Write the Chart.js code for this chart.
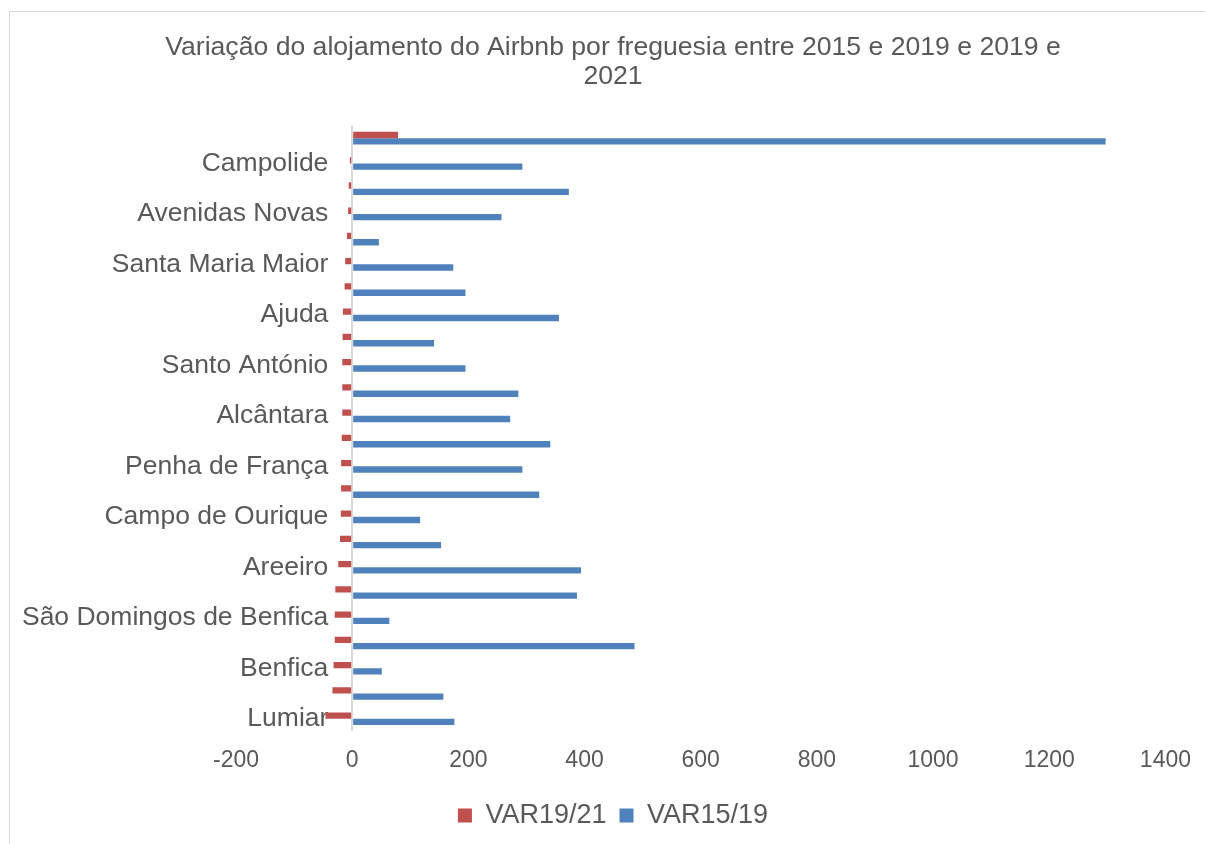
<!DOCTYPE html>
<html>
<head>
<meta charset="utf-8">
<script src="https://cdn.jsdelivr.net/npm/chart.js@4"></script>
<style>
body { margin: 0; background: #fff; overflow: hidden; }
#frame { position: absolute; left: 9px; top: 11px; width: 1400px; height: 1000px; border: 1px solid #d9d9d9; }
#c { position: absolute; left: 0; top: 0; }
</style>
</head>
<body>
<div id="frame"></div>
<canvas id="c" width="1206" height="844"></canvas>
<script>
// freguesias, top to bottom as in the chart
var freguesias = ["Marvila", "Campolide", "Beato", "Avenidas Novas", "Misericórdia", "Santa Maria Maior",
    "São Vicente", "Ajuda", "Arroios", "Santo António", "Estrela", "Alcântara", "Belém", "Penha de França",
    "Parque das Nações", "Campo de Ourique", "Alvalade", "Areeiro", "Olivais", "São Domingos de Benfica",
    "Carnide", "Benfica", "Santa Clara", "Lumiar"];
var var1921 = [79, -4, -6, -7, -9, -12, -13, -16, -16.5, -17, -17, -17, -18, -19, -19, -19.5, -21, -24, -29, -30, -30, -32, -34, -46];
var var1519 = [1297, 293, 373, 257, 46, 174, 195, 356, 141, 195, 286, 272, 341, 293, 322, 117, 153, 394, 387, 64, 486, 51, 157, 176];
var xTicks = [-200, 0, 200, 400, 600, 800, 1000, 1200, 1400];

var grey = "#595959";
var font = "'Liberation Sans', Arial, sans-serif";

new Chart(document.getElementById("c"), {
    type: "bar",
    data: {
        labels: freguesias,
        datasets: [{
            label: "VAR19/21",
            data: var1921,
            backgroundColor: "#C0504D"
        }, {
            label: "VAR15/19",
            data: var1519,
            backgroundColor: "#4F81BD"
        }]
    },
    options: {
        indexAxis: "y",
        responsive: false,
        animation: false,
        categoryPercentage: 0.5,
        barPercentage: 1,
        layout: { padding: { left: 20, right: 0, top: 23, bottom: 5 } },
        scales: {
            x: {
                min: xTicks[0],
                max: xTicks[xTicks.length - 1],
                afterBuildTicks: function (axis) {
                    axis.ticks = xTicks.map(function (v) { return { value: v }; });
                },
                border: { display: false },
                grid: {
                    drawTicks: false,
                    color: function (ctx) { return ctx.tick && ctx.tick.value === 0 ? "#d9d9d9" : "rgba(0,0,0,0)"; },
                    lineWidth: 2
                },
                ticks: {
                    color: grey, font: { family: font, size: 23 }, padding: 15, maxRotation: 0,
                    callback: function (v) { return String(v); }
                }
            },
            // category labels sit just left of the zero line, like Excel does
            y: {
                position: { x: -41 },
                border: { display: false },
                grid: { display: false, drawTicks: false },
                ticks: {
                    autoSkip: false,
                    color: grey,
                    font: { family: font, size: 26.5 },
                    callback: function (val, idx) {
                        return idx % 2 === 1 ? freguesias[idx] : "";
                    }
                }
            },
            // empty axis only to keep room on the left of the plot
            yPad: {
                type: "category",
                position: "left",
                labels: [""],
                border: { display: false },
                grid: { display: false, drawTicks: false },
                ticks: { display: false },
                afterFit: function (axis) { axis.width = 216; }
            }
        },
        plugins: {
            title: {
                display: true,
                text: ["Variação do alojamento do Airbnb por freguesia entre 2015 e 2019 e 2019 e", "2021"],
                color: grey,
                font: { family: font, size: 26.6, weight: "normal", lineHeight: 1.1 },
                padding: { top: 10, bottom: 34 }
            },
            legend: {
                position: "bottom",
                labels: { color: grey, font: { family: font, size: 27 }, boxWidth: 14, boxHeight: 14, padding: 13 }
            },
            tooltip: { enabled: false }
        }
    }
});
</script>
</body>
</html>
